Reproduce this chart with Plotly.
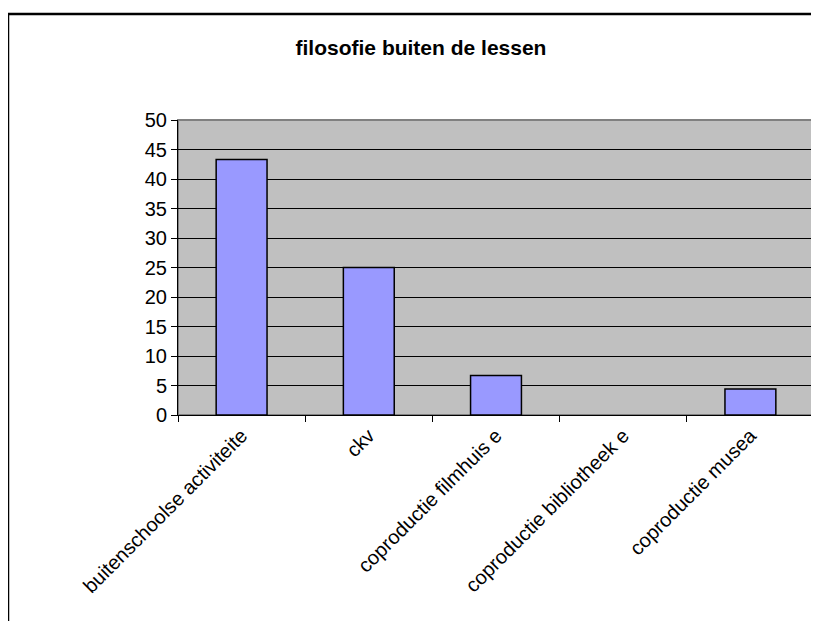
import plotly.graph_objects as go

categories = ["buitenschoolse activiteite", "ckv", "coproductie filmhuis e",
              "coproductie bibliotheek e", "coproductie musea"]
values = [43.3, 25.0, 6.7, 0.0, 4.4]
y_ticks = [0, 5, 10, 15, 20, 25, 30, 35, 40, 45, 50]
title_text = "filosofie buiten de lessen"

W, H = 819, 621
OFF = 8  # page offset of the figure inside the browser window

fig = go.Figure()
fig.add_trace(go.Bar(
    x=categories, y=values,
    marker=dict(color="#9999FF",
                line=dict(color="black", width=[0 if v == 0 else 1.5 for v in values])),
    width=0.4,
))

fig.update_layout(
    width=W, height=H,
    margin=dict(l=178 - OFF, r=W - (814 - OFF), t=120 - OFF, b=H - (415 - OFF)),
    paper_bgcolor="white",
    plot_bgcolor="#C0C0C0",
    showlegend=False,
    font=dict(family="Liberation Sans, Arial", color="black"),
    title=dict(text="<b>" + title_text + "</b>", x=(421 - OFF) / W, xref="container",
               xanchor="center",
               y=1 - (48 - OFF) / H, yref="container", yanchor="middle",
               font=dict(size=21, family="Liberation Sans, Arial", color="black")),
    xaxis=dict(
        tickangle=-45, tickfont=dict(size=20),
        showline=True, linecolor="black", linewidth=1,
        ticks="outside", ticklen=6, tickcolor="black",
        tickson="boundaries", showgrid=False,
        mirror=False,
    ),
    yaxis=dict(
        range=[0, 50], tickvals=y_ticks, tickfont=dict(size=20),
        showline=True, linecolor="black", linewidth=1,
        ticks="outside", ticklen=6, tickcolor="black",
        showgrid=True, gridcolor="black", gridwidth=1,
        zeroline=False,
    ),
    shapes=[
        dict(type="rect", xref="paper", yref="paper", x0=0, x1=1, y0=0, y1=1,
             line=dict(color="#808080", width=2), layer="below"),
        dict(type="rect", xref="paper", yref="paper", x0=(8 - 178) / 636, x1=1.2,
             y0=-1, y1=(415 - 14) / 295, line=dict(color="black", width=2.5)),
    ],
)

fig.write_html("out.html")
